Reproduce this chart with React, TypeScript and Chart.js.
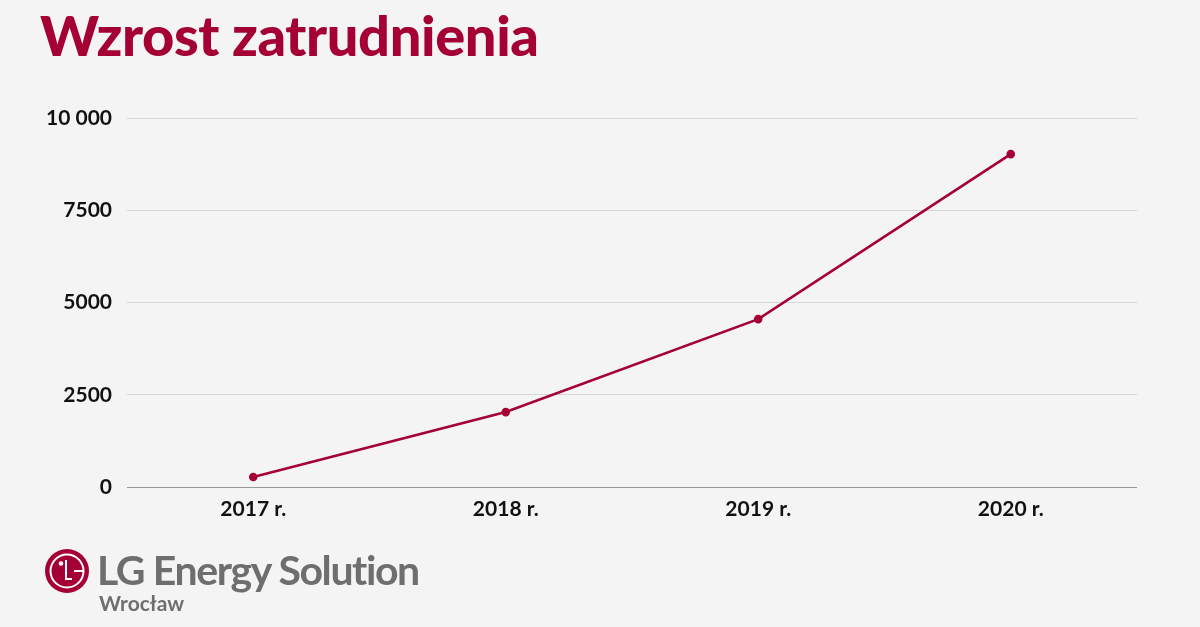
import { useEffect, useRef } from "react";
import { Chart, registerables } from "chart.js";

Chart.register(...registerables);

const years = ["2017 r.", "2018 r.", "2019 r.", "2020 r."];
const employees = [270, 2030, 4550, 9020];
const yTicks = [0, 2500, 5000, 7500, 10000];

const BRAND = "#a50034";
const FONT = "Lato, 'Open Sans', sans-serif";

function EmploymentChart() {
  const canvasRef = useRef<HTMLCanvasElement>(null);

  useEffect(() => {
    if (!canvasRef.current) return;

    const chart = new Chart(canvasRef.current, {
      type: "line",
      data: {
        labels: years,
        datasets: [
          {
            data: employees,
            borderColor: BRAND,
            backgroundColor: BRAND,
            borderWidth: 2.6,
            pointRadius: 3,
            pointHoverRadius: 4,
            tension: 0,
          },
        ],
      },
      options: {
        animation: false,
        responsive: false,
        layout: { padding: { left: 0, right: 63, top: 118, bottom: 100 } },
        scales: {
          x: {
            offset: true,
            grid: { display: false, drawTicks: false },
            border: { display: false },
            ticks: {
              color: "#111",
              padding: 10,
              maxRotation: 0,
              font: { family: FONT, size: 21, weight: "bold" },
            },
            afterFit: (scale) => {
              scale.height = 40;
            },
          },
          y: {
            min: 0,
            max: 10000,
            afterBuildTicks: (scale) => {
              scale.ticks = yTicks.map((value) => ({ value }));
            },
            grid: {
              drawTicks: false,
              lineWidth: 1,
              color: (ctx) => (ctx.tick && ctx.tick.value === 0 ? "#9a9a9a" : "#d6d6d6"),
            },
            border: { display: false },
            ticks: {
              color: "#111",
              padding: 15,
              font: { family: FONT, size: 21, weight: "bold" },
              callback: (value) => (Number(value) === 10000 ? "10 000" : String(value)),
            },
            afterFit: (scale) => {
              scale.width = 127;
            },
          },
        },
        plugins: {
          legend: { display: false },
          tooltip: { enabled: false },
        },
      },
    });

    return () => {
      chart.destroy();
    };
  }, []);

  return <canvas ref={canvasRef} width={1200} height={627} style={{ position: "absolute", left: 0, top: 0 }} />;
}

function Logo() {
  return (
    <div style={{ position: "absolute", left: 44, top: 548, display: "flex", alignItems: "flex-start" }}>
      <svg width="46" height="46" viewBox="0 0 46 46">
        <circle cx="23" cy="23" r="22" fill={BRAND} />
        <circle cx="23" cy="23" r="16.5" fill="none" stroke="#fff" strokeWidth="2" />
        <circle cx="17" cy="15.5" r="2.3" fill="#fff" />
        <path d="M22 12 V31 H28" fill="none" stroke="#fff" strokeWidth="2" />
        <path d="M30 23 H39" fill="none" stroke="#fff" strokeWidth="2" />
      </svg>
      <div style={{ marginLeft: 7, color: "#6e6e6e", fontFamily: FONT }}>
        <div style={{ fontSize: 41, fontWeight: 700, letterSpacing: -1.4, lineHeight: "44px" }}>LG Energy Solution</div>
        <div style={{ fontSize: 21, fontWeight: 700, lineHeight: "20px", marginTop: 1, marginLeft: 2 }}>Wrocław</div>
      </div>
    </div>
  );
}

export default function App() {
  return (
    <div style={{ position: "fixed", left: 0, top: 0, width: 1200, height: 627, background: "#f4f4f4", overflow: "hidden" }}>
      <EmploymentChart />
      <div
        style={{
          position: "absolute",
          left: 40,
          top: 1,
          color: BRAND,
          fontFamily: FONT,
          fontWeight: 900,
          fontSize: 56,
          letterSpacing: -0.4,
        }}
      >
        Wzrost zatrudnienia
      </div>
      <Logo />
    </div>
  );
}
